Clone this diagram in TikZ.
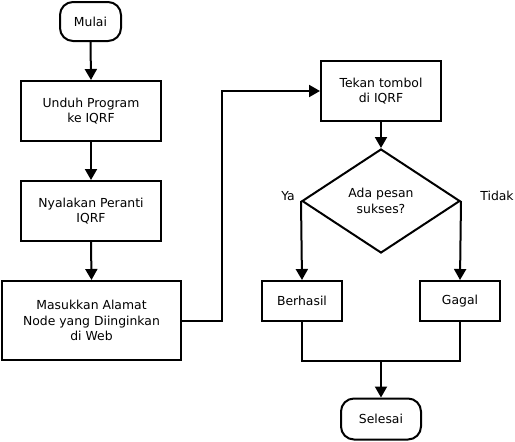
\documentclass[tikz,border=0pt]{standalone}
\usepackage{fontspec}
\setmainfont{DejaVu Sans}
\usetikzlibrary{shapes.geometric,arrows.meta}
\begin{document}
\begin{tikzpicture}[x=1pt,y=-1pt,
  every node/.style={font=\fontsize{12.4}{15.3}\selectfont},
  box/.style={draw,line width=2pt,inner sep=0pt,align=center},
  term/.style={box,rounded corners=13pt},
  txt/.style={inner sep=0pt,align=center},
  conn/.style={line width=2pt},
  arr/.style={conn,-{Triangle[length=11pt,width=12pt]}}]
\useasboundingbox (0,0) rectangle (515,442);
\node[term,minimum width=61pt,minimum height=39pt] (mulai) at (90.5,21.5) {Mulai};
\node[box,minimum width=140pt,minimum height=60pt] (unduh) at (91,111) {Unduh Program\\ke IQRF};
\node[box,minimum width=140pt,minimum height=60pt] (nyala) at (91,211) {Nyalakan Peranti\\IQRF};
\node[box,minimum width=179pt,minimum height=79pt] (masuk) at (91.5,320.5) {Masukkan Alamat\\Node yang Diinginkan\\di Web};
\node[box,minimum width=120pt,minimum height=60pt] (tekan) at (381,91) {Tekan tombol\\di IQRF};
\node[draw,line width=2pt,diamond,inner sep=0pt,minimum width=158pt,minimum height=104pt] (dec) at (381,201) {};
\node[txt] (dectext) at (381,201) {Ada pesan\\sukses?};
\node[txt] (ya) at (288,196) {Ya};
\node[txt] (tidak) at (497,196) {Tidak};
\node[box,minimum width=80pt,minimum height=40pt] (berhasil) at (302,301) {Berhasil};
\node[box,minimum width=80pt,minimum height=40pt] (gagal) at (460,301) {Gagal};
\node[term,minimum width=80pt,minimum height=41pt] (selesai) at (381,419) {Selesai};
\coordinate (m) at (381,361);
\draw[arr] (mulai.south) -- (unduh.north);
\draw[arr] (unduh.south) -- (nyala.north);
\draw[arr] (nyala.south) -- (masuk.north);
\draw[arr] (masuk.east) -- ++(40,0) |- (tekan.west);
\draw[arr] (tekan.south) -- (dec.north);
\draw[arr] (dec.west) -- (berhasil.north);
\draw[arr] (dec.east) -- (gagal.north);
\draw[conn] (berhasil.south) |- (m) -| (gagal.south);
\draw[arr] (m) -- (selesai.north);
\end{tikzpicture}
\end{document}
